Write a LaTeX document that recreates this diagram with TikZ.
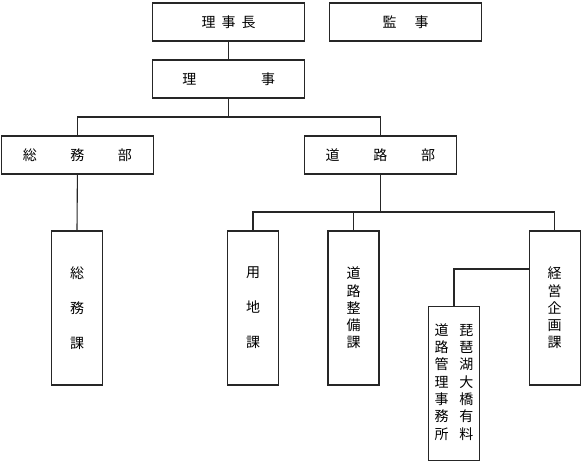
\documentclass[tikz,border=0pt]{standalone}
\usepackage{fontspec}
\newfontfamily\jpf{Noto Sans CJK JP}
\tikzset{
  x=1pt, y=-1pt,
  orgline/.style={line width=1.1pt, draw=black!85},
  hbox/.style={orgline, draw, fill=white, inner sep=0pt, minimum width=152pt, minimum height=38pt,
    font=\jpf\fontsize{14}{17.3}\selectfont},
  vbox/.style={orgline, draw, fill=white, inner sep=0pt, minimum width=51pt, minimum height=154pt,
    align=center, font=\jpf\fontsize{14}{17.3}\selectfont},
}
\begin{document}
\begin{tikzpicture}
\useasboundingbox (0,0) rectangle (585,466);
% top level
\node[hbox] (rijicho) at (228.7,22) {理\hspace{6pt}事\hspace{6pt}長};
\node[hbox] (kanji) at (405.7,22) {監\hspace{18pt}事};
\node[hbox] (riji) at (228.7,79) {理\hspace{64.7pt}事};
% departments
\node[hbox] (somubu) at (77.4,155) {総\hspace{33.5pt}務\hspace{33.5pt}部};
\node[hbox] (dorobu) at (380.4,155) {道\hspace{33.8pt}路\hspace{33.8pt}部};
% sections
\node[vbox] (somuka) at (77,308) {総\\[17.7pt]務\\[17.7pt]課};
\node[vbox] (yochika) at (253,308) {用\\[17.7pt]地\\[17.7pt]課};
\node[vbox] (seibika) at (353.5,308) {道\\路\\整\\備\\課};
\node[vbox] (keieika) at (554.7,308) {経\\営\\企\\画\\課};
\node[vbox] (biwako) at (454,383.7) {\begin{tabular}{@{}c@{\hspace{11pt}}c@{}}道&琵\\路&琶\\管&湖\\理&大\\事&橋\\務&有\\所&料\end{tabular}};
% branch points
\coordinate (b1) at (228.7,117);
\coordinate (b2) at (380.4,212);
% connectors
\draw[orgline] (rijicho.south) -- (riji.north);
\draw[orgline] (riji.south) -- (b1);
\draw[orgline] (somubu.north) |- (b1) -| (dorobu.north);
\draw[orgline] (somubu.south) -- (somuka.north);
\draw[orgline] (dorobu.south) -- (b2);
\draw[orgline] (yochika.north) |- (b2) -| (keieika.north);
\draw[orgline] (seibika.north) -- (seibika.north |- b2);
\draw[orgline] ([yshift=39pt]keieika.west) -| (biwako.north);
\end{tikzpicture}
\end{document}
